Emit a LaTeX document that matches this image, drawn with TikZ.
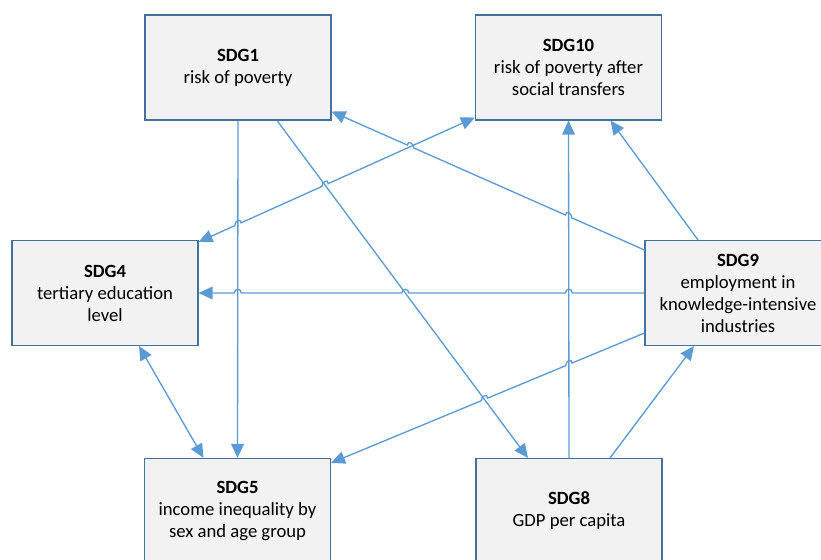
\documentclass[tikz,border=0pt]{standalone}
\usepackage{fontspec}
\setmainfont{Carlito}
\usepackage{xcolor}
\usetikzlibrary{arrows.meta,positioning,calc}
\definecolor{sdgfill}{RGB}{242,242,242}
\definecolor{sdgedge}{RGB}{65,113,156}
\definecolor{sdglink}{RGB}{91,155,213}

\tikzset{
  sdgbox/.style={draw=sdgedge, fill=sdgfill, line width=0.8pt, minimum width=139.5pt,
    minimum height=78.75pt, align=center, inner sep=0pt, font=\fontsize{14}{16.5}\selectfont},
  link/.style={draw=sdglink, line width=1pt, -{Triangle[length=10.5pt,width=9.5pt]}},
  twolink/.style={link, {Triangle[length=10.5pt,width=9.5pt]}-{Triangle[length=10.5pt,width=9.5pt]}},
  hop/.style args={#1 from #2 to #3}{insert path={-- ($(#1)!2.6pt!(#2)$)
    .. controls +(0,-5) and +(0,-5) .. ($(#1)!2.6pt!(#3)$)}}
}

\begin{document}
\begin{tikzpicture}[x=0.75pt, y=-0.75pt]
    \useasboundingbox (0,0) rectangle (821,560);
    \clip (0,0) rectangle (821,560);

    % Boxes
    \node[sdgbox] (s1) at (238,67.5) {\textbf{SDG1}\\risk of poverty};
    \node[sdgbox] (s10) at (568.5,67.5) {\textbf{SDG10}\\risk of poverty after\\social transfers};
    \node[sdgbox] (s4) at (105,293) {\textbf{SDG4}\\tertiary education\\level};
    \node[sdgbox] (s9) at (738,293) {\textbf{SDG9}\\employment in\\knowledge-intensive\\industries};
    \node[sdgbox] (s5) at (237.5,511) {\textbf{SDG5}\\income inequality by\\sex and age group};
    \node[sdgbox] (s8) at (569,511) {\textbf{SDG8}\\GDP per capita};

    % End points on the boxes
    \coordinate (l1a) at (s1.south);
    \coordinate (l1b) at (s5.north);
    \coordinate (l2a) at ($(s1.south)+(39,0)$);
    \coordinate (l2b) at ($(s8.north)+(-41,0)$);
    \coordinate (l3a) at ($(s9.west)+(0,-43)$);
    \coordinate (l3b) at ($(s1.south east)+(0,-9)$);
    \coordinate (l4a) at ($(s4.north east)+(0,2)$);
    \coordinate (l4b) at ($(s10.south west)+(0,-3)$);
    \coordinate (l5a) at (s9.west);
    \coordinate (l5b) at (s4.east);
    \coordinate (l6a) at ($(s4.south)+(34,0)$);
    \coordinate (l6b) at ($(s5.north)+(-34,0)$);
    \coordinate (l7a) at ($(s9.west)+(0,40)$);
    \coordinate (l7b) at ($(s5.north east)+(0,5)$);
    \coordinate (l8a) at (s8.north);
    \coordinate (l8b) at (s10.south);
    \coordinate (l9a) at ($(s8.north)+(41,0)$);
    \coordinate (l9b) at ($(s9.south)+(-44,0)$);
    \coordinate (l10a) at ($(s9.north)+(-40,0)$);
    \coordinate (l10b) at ($(s10.south)+(42,0)$);

    % Crossings
    \coordinate (c31) at (intersection of l3a--l3b and l8a--l8b);
    \coordinate (c32) at (intersection of l3a--l3b and l4a--l4b);
    \coordinate (c41) at (intersection of l4a--l4b and l1a--l1b);
    \coordinate (c42) at (intersection of l4a--l4b and l2a--l2b);
    \coordinate (c51) at (intersection of l5a--l5b and l8a--l8b);
    \coordinate (c52) at (intersection of l5a--l5b and l2a--l2b);
    \coordinate (c53) at (intersection of l5a--l5b and l1a--l1b);
    \coordinate (c71) at (intersection of l7a--l7b and l8a--l8b);
    \coordinate (c72) at (intersection of l7a--l7b and l2a--l2b);

    % Links
    \draw[link] (l1a) -- (l1b);
    \draw[link] (l2a) -- (l2b);
    \draw[link] (l3a) [hop={c31 from l3a to l3b}] [hop={c32 from l3a to l3b}] -- (l3b);
    \draw[twolink] (l4a) [hop={c41 from l4a to l4b}] [hop={c42 from l4a to l4b}] -- (l4b);
    \draw[link] (l5a) [hop={c51 from l5a to l5b}] [hop={c52 from l5a to l5b}]
        [hop={c53 from l5a to l5b}] -- (l5b);
    \draw[twolink] (l6a) -- (l6b);
    \draw[link] (l7a) [hop={c71 from l7a to l7b}] [hop={c72 from l7a to l7b}] -- (l7b);
    \draw[link] (l8a) -- (l8b);
    \draw[link] (l9a) -- (l9b);
    \draw[link] (l10a) -- (l10b);
\end{tikzpicture}
\end{document}
